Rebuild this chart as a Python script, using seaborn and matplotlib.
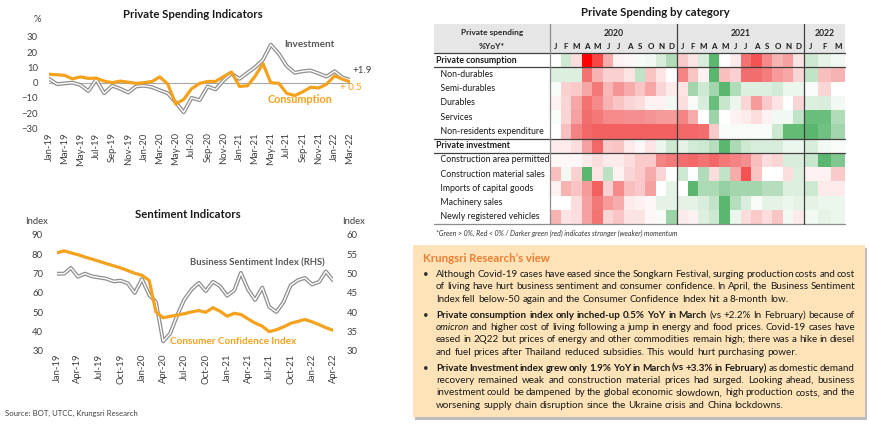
import numpy as np
import pandas as pd
import matplotlib
matplotlib.use("Agg")
import matplotlib.pyplot as plt
import matplotlib.dates as mdates
from matplotlib.colors import LinearSegmentedColormap
from matplotlib.patches import Rectangle
import seaborn as sns

# ---- Private spending indicators (%YoY), Jan-19 .. Mar-22
spend_months = pd.date_range("2019-01-01", periods=39, freq="MS")
investment = [2.5, -1, -0.5, 0, -1.5, -5.5, 2, -7, -2, -4, -6.5, -2.5,
              -2, -3, -5, -7, -13, -19.5, -10, -11.5, -2.5, -4.5, 1.5, 6,
              2.5, 6.5, 10, 15, 25, 19, 11, 6.5, 7.5, 8, 6, 4,
              7.5, 3.3, 1.9]
consumption = [5.5, 5.2, 4.8, 2.5, 3.8, 2.8, 3, 1, 0, 1, 0.3, -0.5,
               0, 0.8, 3.8, -1, -14, -11, -4, -0.5, 0.8, 0.8, 4, 7,
               -2.5, -2, 4, 12.5, 0, -0.5, -7, -8.5, -6, -3, -3.5, -1,
               4.5, 2.2, 0.5]

# ---- Sentiment indicators, Jan-19 .. Apr-22
sent_months = pd.date_range("2019-01-01", periods=40, freq="MS")
cci = [80.8, 81.8, 80.8, 79.8, 78.6, 77.5, 76.4, 75.2, 74.1, 73.0, 71.6, 70.2,
       69.2, 66.5, 50.2, 47.2, 47.9, 48.6, 49.3, 50.2, 50.9, 50.0, 52.4, 50.6,
       48.0, 49.5, 48.9, 46.6, 44.5, 42.8, 40.0, 41.0, 42.5, 44.3, 45.3, 46.3,
       45.1, 43.6, 42.1, 40.7]
bsi = [50, 50, 51.5, 49.2, 50, 49.3, 49, 48.7, 48, 48.2, 47.5, 45,
       48.6, 44.5, 42.7, 32.5, 34.5, 39.3, 43.3, 45.9, 47.6, 45.5, 47.9, 46.8,
       44.3, 45.7, 50.2, 45.9, 43.2, 46.4, 41.4, 40.1, 42.7, 47, 48.3, 48.9,
       47.2, 47.9, 50.6, 48.3]

# ---- Private spending by category (momentum score, red < 0 < green)
years = ["2020", "2021", "2022"]
month_letters = ["J", "F", "M", "A", "M", "J", "J", "A", "S", "O", "N", "D"]
row_labels = ["Private consumption", "Non-durables", "Semi-durables", "Durables",
              "Services", "Non-residents expenditure", "Private investment",
              "Construction area permitted", "Construction material sales",
              "Imports of capital goods", "Machinery sales", "Newly registered vehicles"]
bold_rows = ["Private consumption", "Private investment"]
pc = [0, 0.8, -0.5, -4, -3, -1.3, -0.2, -0.1, 0.1, 0.2, 0.6, 1.3, -0.8, -0.4, 0.6, 2.5, 0, -0.3, -2.3, -2.8, -1.9, -1.2, -1.5, -0.4, 0.8, 0.4, 0.2]
nd = [0.5, 0.5, 0.5, -2.3, -1.2, -0.7, -0.7, -0.4, 1, -0.9, -0.4, 0, -2, -0.9, -0.2, 2.5, -1, -0.7, -2.4, -2.4, -2.1, -1.6, -1.4, -0.6, 1, -1, -1.2]
sd = [0.1, -0.7, -0.8, -1.4, -2.2, -1.1, -1.7, -1.3, -0.9, -1.4, -0.6, -0.3, -0.4, 1.5, 0.8, 1.5, 2.5, 1.3, 0.5, 0.5, 0.5, 0.7, 0.3, 0.3, 0.1, -0.6, 0]
du = [-0.2, -0.6, -1.4, -2.3, -1.9, -1.2, -0.9, -0.6, -0.5, -0.2, -0.2, 0.2, -0.5, 0.1, 0.6, 2.3, 0.9, 0.3, -0.6, -1.6, -0.8, -0.4, 0, -0.6, 0.5, 0.6, 0.2]
sv = [0.1, -0.6, -1.5, -2.4, -2.2, -1.9, -1.9, -1.8, -1.8, -1.7, -1.6, -1.6, -2, -1.3, 0, 1.6, 0, -0.2, -0.3, -0.5, -0.2, 0.2, 0.2, 1, 2.3, 2.3, 1.3]
nr = [0, -1, -2, -2.5, -2.6, -2.6, -2.6, -2.6, -2.6, -2.6, -2.6, -2.6, -2.5, -2.5, -2.4, -0.8, 0.1, 0.1, 0.1, 0.1, 0.1, 0.8, 2.4, 2.4, 2.5, 2.2, 1.5]
pi = [-0.3, -0.3, -0.5, -1.5, -2.5, -0.8, -0.9, -0.3, -0.1, -0.4, 0.3, 0.8, 0.4, 0.7, 0.8, 1.2, 2.5, 1.4, 0.8, 0.6, 0.6, 0.6, 0.3, 0.3, 0.6, 0.2, 0.1]
cap = [-0.1, -0.1, -0.1, -0.3, -0.5, -0.3, -0.3, -0.5, -0.8, -0.8, -2, -2.2, -2.4, -2.5, -2.3, -2.5, -2.2, -2, -1.8, -1, -0.5, -0.6, 0.6, 0.6, 0.9, 2.5, 2]
cms = [-1, 0.2, -0.7, 2.5, -0.4, 1.1, -0.2, -0.6, -0.8, -1.3, -0.6, 0, 0.8, 0, 1.3, -0.5, 1, -1.3, -2.8, -0.9, 0, 0, -0.5, 0.5, -0.2, -0.2, -0.8]
icg = [-0.2, -1.2, -0.9, -1.6, -2.6, -0.7, -1.9, -1, -0.8, -1.5, 0, 0.4, 0, 2.5, 1.4, 1.4, 1.7, 1.5, 1.5, 1.5, 1.2, 1.2, 0.5, 0.5, 0.8, -0.3, -0.3]
ms = [0, 0, -0.5, -1.5, -2.2, -1.6, -1.3, -0.3, -0.2, -0.1, 0.4, 0.4, 0.4, 0.4, 0.6, 1, 2.5, 1.2, 0.6, 0.1, 0.4, 0.4, 0.3, 0.4, 0.4, 0.3, 0.3]
nrv = [-1.2, -0.4, -0.5, -1.5, -2.3, -0.6, -0.9, -0.4, -0.4, -0.1, 0.1, 1.6, -0.3, -0.2, 0.5, 0.8, 2.5, 0.3, -0.5, -0.8, -0.5, -0.9, 0.2, -0.3, 0.2, 0.4, 0.3]

# ---- Krungsri Research's view (line breaks as in the original, n/b/i = normal/bold/italic)
view_paras = [
    [[("Although Covid-19 cases have eased since the Songkarn Festival, surging production costs and cost", "n")],
     [("of living have hurt business sentiment and consumer confidence. In April, the Business Sentiment", "n")],
     [("Index fell below-50 again and the Consumer Confidence Index hit a 8-month low.", "n")]],
    [[("Private consumption index only inched-up 0.5% YoY in March", "b"), ("(vs +2.2% In February) because of", "n")],
     [("omicron", "i"), ("and higher cost of living following a jump in energy and food prices. Covid-19 cases have", "n")],
     [("eased in 2Q22 but prices of energy and other commodities remain high; there was a hike in diesel", "n")],
     [("and fuel prices after Thailand reduced subsidies. This would hurt purchasing power.", "n")]],
    [[("Private Investment index grew only 1.9% YoY in March (vs +3.3% in February)", "b"), ("as domestic demand", "n")],
     [("recovery remained weak and construction material prices had surged. Looking ahead, business", "n")],
     [("investment could be dampened by the global economic slowdown, high production costs, and the", "n")],
     [("worsening supply chain disruption since the Ukraine crisis and China lockdowns.", "n")]],
]

ORANGE = "#f4a21e"
GRAY = "#8e8e8e"
TICK = "#404040"

sns.set_theme(style="white")
plt.rcParams["font.family"] = ["Lato", "DejaVu Sans"]

W, H = 870, 424
fig = plt.figure(figsize=(W / 100, H / 100), dpi=100)
fig.patch.set_facecolor("white")


def box(x0, y0, x1, y1):
    return [x0 / W, 1 - y1 / H, (x1 - x0) / W, (y1 - y0) / H]


bg = fig.add_axes([0, 0, 1, 1], zorder=-5)
bg.set_xlim(0, W)
bg.set_ylim(H, 0)
bg.axis("off")


def style_axis(ax):
    for s in ax.spines.values():
        s.set_visible(False)
    ax.patch.set_alpha(0)
    ax.set_xlabel("")
    ax.set_ylabel("")


# ---------- Private Spending Indicators
sp = pd.DataFrame({"month": spend_months, "Investment": investment, "Consumption": consumption})
ax1 = fig.add_axes(box(49, 37, 350, 128.3))
ax1.axhline(0, color="#a6a6a6", lw=0.8)
sns.lineplot(data=sp, x="month", y="Investment", ax=ax1, color=GRAY, lw=2.8)
sns.lineplot(data=sp, x="month", y="Investment", ax=ax1, color="white", lw=1.0)
sns.lineplot(data=sp, x="month", y="Consumption", ax=ax1, color=ORANGE, lw=2.3)
ax1.set_xlim(sp["month"].iloc[0], sp["month"].iloc[-1])
ax1.set_ylim(-30, 30)
ax1.set_yticks(range(-30, 31, 10))
ax1.set_xticks(sp["month"].iloc[::2])
ax1.xaxis.set_major_formatter(mdates.DateFormatter("%b-%y"))
ax1.tick_params(axis="x", rotation=90, length=0, pad=3, labelsize=6.8, labelcolor=TICK)
ax1.tick_params(axis="y", length=0, pad=8, labelsize=6.8, labelcolor=TICK)
style_axis(ax1)
ax1.text(0.864, 0.923, "Investment", transform=ax1.transAxes, ha="center", va="center",
         fontsize=7.2, fontweight="bold", color="#595959")
ax1.text(1.007, 0.638, "+1.9", transform=ax1.transAxes, ha="left", va="center",
         fontsize=7, color="#404040")
ax1.text(0.834, 0.32, "Consumption", transform=ax1.transAxes, ha="center", va="center",
         fontsize=7.8, fontweight="bold", color=ORANGE)
ax1.text(0.967, 0.452, "+ 0.5", transform=ax1.transAxes, ha="left", va="center",
         fontsize=7, color=ORANGE)

# ---------- Sentiment Indicators
se = pd.DataFrame({"month": sent_months, "CCI": cci, "BSI": bsi})
ax2 = fig.add_axes(box(57, 235, 333, 351))
ax2r = ax2.twinx()
sns.lineplot(data=se, x="month", y="BSI", ax=ax2r, color=GRAY, lw=2.8)
sns.lineplot(data=se, x="month", y="BSI", ax=ax2r, color="white", lw=1.0)
sns.lineplot(data=se, x="month", y="CCI", ax=ax2, color=ORANGE, lw=2.3)
ax2.set_zorder(ax2r.get_zorder() + 1)
ax2.set_xlim(se["month"].iloc[0], se["month"].iloc[-1])
ax2.set_ylim(30, 90)
ax2.set_yticks(range(30, 91, 10))
ax2r.set_ylim(30, 60)
ax2r.set_yticks(range(30, 61, 5))
ax2.set_xticks(se["month"].iloc[::3])
ax2.xaxis.set_major_formatter(mdates.DateFormatter("%b-%y"))
ax2.tick_params(axis="x", rotation=90, length=0, pad=2, labelsize=6.8, labelcolor=TICK)
ax2.tick_params(axis="y", length=0, pad=10, labelsize=6.8, labelcolor=TICK)
ax2r.tick_params(axis="y", length=0, pad=10, labelsize=6.8, labelcolor=TICK)
style_axis(ax2)
style_axis(ax2r)
ax2.text(0.725, 0.76, "Business Sentiment Index (RHS)", transform=ax2.transAxes, ha="center",
         va="center", fontsize=6.8, fontweight="bold", color="#595959")
ax2.text(0.638, 0.086, "Consumer Confidence Index", transform=ax2.transAxes, ha="center",
         va="center", fontsize=7.2, fontweight="bold", color=ORANGE)

# ---------- Heatmap table
hm = np.array([pc, nd, sd, du, sv, nr, pi, cap, cms, icg, ms, nrv])
cmap = LinearSegmentedColormap.from_list("rg", [
    (0.0, "#ff0000"), (1.5 / 8, "#f26868"), (2.5 / 8, "#f6a0a0"), (3.5 / 8, "#fbdcdc"),
    (0.5, "#ffffff"), (4.5 / 8, "#def0e1"), (5.5 / 8, "#a6d7af"), (6.5 / 8, "#5cb870"),
    (1.0, "#3a9a50")])

T_X0, T_X1, T_Y0, H_Y, T_Y1 = 434, 845, 24, 53, 224
C0, C1, C2 = 550, 804, 845
bg.add_patch(Rectangle((T_X0, T_Y0), T_X1 - T_X0, H_Y - T_Y0, color="#e6e6e6", lw=0))

axh1 = fig.add_axes(box(C0, H_Y, C1, T_Y1))
sns.heatmap(hm[:, :24], ax=axh1, cmap=cmap, vmin=-4, vmax=4, cbar=False,
            xticklabels=month_letters * 2, yticklabels=row_labels)
axh2 = fig.add_axes(box(C1, H_Y, C2, T_Y1))
sns.heatmap(hm[:, 24:], ax=axh2, cmap=cmap, vmin=-4, vmax=4, cbar=False,
            xticklabels=month_letters[:3], yticklabels=False)
for ax in (axh1, axh2):
    ax.xaxis.tick_top()
    ax.tick_params(axis="x", length=0, pad=2, labelsize=5.8, rotation=0, labelcolor="#1a1a1a")
    for lab in ax.get_xticklabels():
        lab.set_fontweight("bold")
    ax.set_xlabel("")
    ax.set_ylabel("")
axh1.tick_params(axis="y", length=0, pad=82, labelsize=6.3, rotation=0, labelcolor="#1a1a1a")
axh1.set_yticklabels([("" if t in bold_rows else "  ") + t for t in row_labels])
for lab in axh1.get_yticklabels():
    lab.set_ha("left")
    if lab.get_text().strip() in bold_rows:
        lab.set_fontweight("bold")

fg = fig.add_axes([0, 0, 1, 1], zorder=10)
fg.set_xlim(0, W)
fg.set_ylim(H, 0)
fg.axis("off")

fg.text(655, 13, "Private Spending by category", ha="center", va="center",
        fontsize=8.2, fontweight="bold", color="#1a1a1a")
fg.text(492, 32, "Private spending", ha="center", va="center", fontsize=6, fontweight="bold")
fg.text(492, 46.5, "%YoY*", ha="center", va="center", fontsize=6, fontweight="bold")
col_w = (C1 - C0) / 24
for yr, xc in zip(years, [C0 + 6 * col_w, C0 + 18 * col_w, (C1 + C2) / 2]):
    fg.text(xc, 34, yr, ha="center", va="center", fontsize=6.2, fontweight="bold")
row_h = (T_Y1 - H_Y) / 12
fg.plot([T_X0, T_X1], [H_Y, H_Y], color="#404040", lw=0.9)
for k in (1, 6, 7):
    fg.plot([T_X0, T_X1], [H_Y + k * row_h] * 2, color="#404040", lw=0.9)
fg.plot([T_X0, T_X1], [T_Y1, T_Y1], color="#8c8c8c", lw=0.9)
fg.plot([C0, C0], [T_Y0, T_Y1], color="#8c8c8c", lw=0.9)
fg.plot([C0 + 12 * col_w] * 2, [T_Y0, T_Y1], color="#404040", lw=0.9)
fg.plot([C1, C1], [T_Y0, T_Y1], color="#404040", lw=0.9)
fg.text(436, 233, "*Green > 0%, Red < 0% / Darker green (red) indicates stronger (weaker) momentum",
        ha="left", va="center", fontsize=5, fontstyle="italic", color="#333333")

# ---------- chart titles and labels
fg.text(193, 15, "Private Spending Indicators", ha="center", va="center",
        fontsize=8.2, fontweight="bold", color="#1a1a1a")
fg.text(37, 20, "%", ha="center", va="center", fontsize=6.8, color=TICK)
fg.text(188, 215, "Sentiment Indicators", ha="center", va="center",
        fontsize=8.2, fontweight="bold", color="#1a1a1a")
fg.text(37, 221, "Index", ha="center", va="center", fontsize=6.8, color=TICK)
fg.text(354, 221, "Index", ha="center", va="center", fontsize=6.8, color=TICK)
fg.text(5, 413, "Source: BOT, UTCC, Krungsri Research", ha="left", va="center",
        fontsize=5.6, color="#404040")

# ---------- Krungsri Research's view box
bg.add_patch(Rectangle((415.5, 247.5), 452, 172, color="#bdbdbd", lw=0))
bg.add_patch(Rectangle((413, 245), 452, 172, color="#fde3b7", lw=0))
fg.text(423, 258, "Krungsri Research\u2019s view", ha="left", va="center",
        fontsize=8.2, fontweight="bold", color="#ed7d31")

FS = 7.1
STY = {"n": {}, "b": {"fontweight": "bold"}, "i": {"fontstyle": "italic"}}
renderer = fig.canvas.get_renderer()


def measure(s, st):
    t = fg.text(0, 0, s, fontsize=FS, **STY[st])
    w = t.get_window_extent(renderer=renderer).width
    t.remove()
    return w


space_w = measure("a b", "n") - measure("ab", "n")
X0, X1 = 436, 855
y = 277
for para in view_paras:
    fg.text(425.5, y - 2.5, "\u2022", ha="center", va="center", fontsize=7, color="#333333")
    for li, line in enumerate(para):
        words = [(w, st) for seg, st in line for w in seg.split()]
        widths = [measure(w, st) for w, st in words]
        if li == len(para) - 1:
            gap = space_w
        else:
            gap = max((X1 - X0 - sum(widths)) / (len(words) - 1), space_w * 0.6)
        x = X0
        for (w, st), wd in zip(words, widths):
            fg.text(x, y, w, fontsize=FS, ha="left", va="baseline", color="#1a1a1a", **STY[st])
            x += wd + gap
        y += 12.3
    y += 3.8

fig.savefig("out.png", dpi=100, facecolor="white")
